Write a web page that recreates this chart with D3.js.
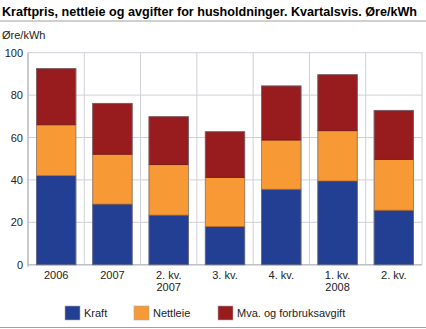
<!DOCTYPE html>
<html><head><meta charset="utf-8">
<script src="https://cdn.jsdelivr.net/npm/d3@7"></script>
<style>body{margin:0;background:#fff;} svg{display:block;font-family:"Liberation Sans",Arial,sans-serif;}</style>
</head><body>
<svg id="c" width="426" height="329"></svg>
<script>
const categories = [["2006"],["2007"],["2. kv.","2007"],["3. kv."],["4. kv."],["1. kv.","2008"],["2. kv."]];
const kraft    = [42.0, 28.6, 23.4, 18.0, 35.6, 39.5, 25.7];
const nettleie = [24.0, 23.5, 23.8, 23.2, 23.2, 23.7, 24.0];
const mva      = [26.5, 24.0, 22.6, 21.5, 25.5, 26.4, 23.1];
const seriesNames = ["Kraft","Nettleie","Mva. og forbruksavgift"];
const yTicks = [0,20,40,60,80,100];
const colors = ["#223f93","#f79a36","#981b1e"];
const strokes = ["#1a2f6e","#b86e25","#6e1214"];

const svg = d3.select("#c");
const W=426,H=329;
const m={l:28,r:4,t:52.7,b:64.3};
const x = d3.scaleBand().domain(d3.range(categories.length)).range([m.l, W-m.r]).paddingInner(0.3).paddingOuter(0.15);
const y = d3.scaleLinear().domain([0,100]).range([H-m.b, m.t]);

svg.append("text").attr("x",2).attr("y",16).attr("font-size",12.6).attr("font-weight","bold").attr("fill","#000")
  .text("Kraftpris, nettleie og avgifter for husholdninger. Kvartalsvis. Øre/kWh");
svg.append("line").attr("x1",0).attr("x2",W).attr("y1",21).attr("y2",21).attr("stroke","#a0a0a0").attr("stroke-width",1);
svg.append("text").attr("x",2).attr("y",39).attr("font-size",11).attr("fill","#222").text("Øre/kWh");

// grid
const g = svg.append("g");
yTicks.forEach(t=>{
  g.append("line").attr("x1",m.l).attr("x2",W-m.r).attr("y1",y(t)).attr("y2",y(t)).attr("stroke","#cfd0d8").attr("stroke-width",1);
  g.append("text").attr("x",23).attr("y",y(t)+4).attr("text-anchor","end").attr("font-size",11).attr("fill","#222").text(t);
});
for(let i=0;i<=categories.length;i++){
  const xx = m.l + i*(W-m.r-m.l)/categories.length;
  g.append("line").attr("x1",xx).attr("x2",xx).attr("y1",y(100)).attr("y2",y(0)).attr("stroke","#cfd0d8").attr("stroke-width",1);
}
g.append("line").attr("x1",m.l).attr("x2",m.l).attr("y1",y(100)).attr("y2",y(0)+2).attr("stroke","#bfc0c8").attr("stroke-width",1.5);
g.append("line").attr("x1",m.l).attr("x2",W-m.r).attr("y1",y(0)).attr("y2",y(0)).attr("stroke","#bfc0c8").attr("stroke-width",1.5);

const rows = categories.map((c,i)=>({i, Kraft:kraft[i], Nettleie:nettleie[i], "Mva. og forbruksavgift":mva[i]}));
const stack = d3.stack().keys(seriesNames)(rows);
stack.forEach((s,k)=>{
  svg.append("g").selectAll("rect").data(s).join("rect")
    .attr("x",d=>x(d.data.i)).attr("width",x.bandwidth())
    .attr("y",d=>y(d[1])).attr("height",d=>y(d[0])-y(d[1]))
    .attr("fill",colors[k]).attr("stroke",strokes[k]).attr("stroke-width",0.8);
});
rows.forEach(r=>{
  const tot=kraft[r.i]+nettleie[r.i]+mva[r.i];
  svg.append("rect").attr("x",x(r.i)).attr("y",y(tot)).attr("width",x.bandwidth()).attr("height",y(0)-y(tot))
    .attr("fill","none").attr("stroke","#8a8a95").attr("stroke-width",0.8).attr("stroke-opacity",0.7);
});

categories.forEach((c,i)=>{
  c.forEach((line,j)=>{
    svg.append("text").attr("x",x(i)+x.bandwidth()/2).attr("y",279+j*12).attr("text-anchor","middle")
      .attr("font-size",11).attr("fill","#222").text(line);
  });
});

const lx=[65,134,218];
seriesNames.forEach((n,k)=>{
  svg.append("rect").attr("x",lx[k]).attr("y",306).attr("width",15).attr("height",14).attr("fill",colors[k]).attr("stroke","#aaa").attr("stroke-width",0.6);
  svg.append("text").attr("x",lx[k]+19).attr("y",317).attr("font-size",11).attr("fill","#222").text(n);
});
svg.append("line").attr("x1",0).attr("x2",W).attr("y1",327.5).attr("y2",327.5).attr("stroke","#a0a0a0").attr("stroke-width",1);
</script>
</body></html>
